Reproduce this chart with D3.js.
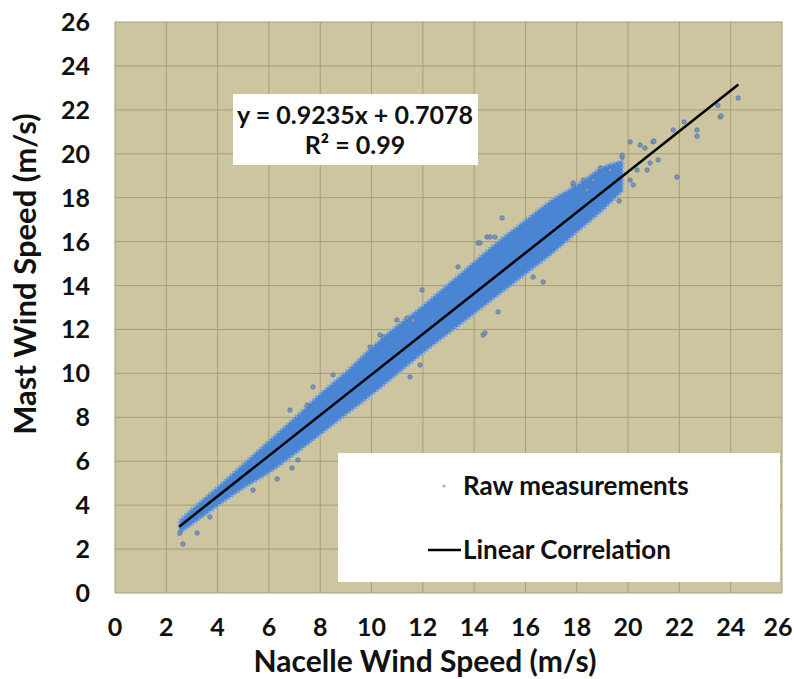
<!DOCTYPE html>
<html>
<head>
<meta charset="utf-8">
<script src="https://cdn.jsdelivr.net/npm/d3@7"></script>
<style>
  html, body { margin: 0; padding: 0; background: #fff; }
  svg text { font-family: Lato, "Open Sans", sans-serif; font-weight: 700; fill: #111; }
</style>
</head>
<body>
<div id="chart"></div>
<script>
/* wind speed scatter: nacelle vs mast, dense band + outliers + linear fit */

// axis ticks (m/s)
const ticks = [0, 2, 4, 6, 8, 10, 12, 14, 16, 18, 20, 22, 24, 26];

// dense part of the cloud: nacelle speed -> band edges of mast speed
const bandX     = [2.5, 3.0, 4.0, 5.0, 6.0, 7.0, 8.0, 9.0, 10.0, 11.0, 12.0, 13.0, 14.0, 15.0, 16.0, 17.0, 18.0, 19.0, 19.8];
const bandUpper = [3.3, 3.85, 4.85, 5.9, 6.95, 8.0, 9.1, 10.1, 11.2, 12.2, 13.1, 14.1, 15.1, 16.1, 17.0, 17.9, 18.6, 19.4, 19.7];
const bandLower = [2.7, 3.1, 3.95, 4.75, 5.45, 6.3, 7.2, 8.1, 9.0, 9.95, 10.9, 11.8, 12.7, 13.6, 14.5, 15.4, 16.4, 17.4, 18.3];

// scattered points outside the dense band [nacelle, mast]
const outliers = [
  [2.65, 2.23], [2.53, 2.73], [3.2, 2.73], [3.7, 3.46], [5.38, 4.69], [6.32, 5.19], [6.9, 5.69], [7.13, 6.06],
  [6.82, 8.33], [7.49, 8.56], [7.72, 9.38], [8.5, 9.93], [9.94, 11.2], [10.33, 11.75], [10.45, 11.66],
  [10.99, 12.43], [11.38, 12.52], [11.62, 12.43], [11.5, 9.84], [11.89, 10.38], [11.97, 13.8],
  [13.37, 14.85], [14.15, 15.94], [14.23, 15.94], [14.5, 16.21], [14.62, 16.21], [14.81, 16.21],
  [15.09, 17.08], [14.35, 11.75], [14.42, 11.84], [14.93, 12.8], [16.3, 14.39], [16.69, 14.16],
  [17.86, 18.58], [18.25, 18.8], [18.4, 18.35], [18.64, 18.8], [17.86, 18.67], [18.91, 19.35], [19.3, 19.26],
  [19.65, 17.85], [19.77, 19.85], [19.77, 19.94], [20.08, 18.8], [20.2, 18.58], [20.35, 19.26], [20.08, 20.54],
  [20.47, 20.4], [20.66, 20.26], [20.74, 19.26], [20.86, 19.58], [20.97, 20.54], [21.01, 20.58], [21.17, 19.72],
  [21.76, 21.08], [21.9, 18.94], [22.18, 21.45], [22.69, 21.08], [22.69, 20.8], [23.5, 22.2], [23.59, 21.68],
  [23.63, 21.72], [24.29, 22.54]
];

// linear correlation y = 0.9235x + 0.7078, drawn between its end points
const fitLine = [[2.5, 3.02], [24.3, 23.15]];
const fitLabel = ["y = 0.9235x + 0.7078", "R² = 0.99"];
const legendLabels = ["Raw measurements", "Linear Correlation"];

const W = 794, H = 679;
const m = { t: 22, r: 12, b: 86, l: 115 };
const svg = d3.select("#chart").append("svg").attr("width", W).attr("height", H);

const x = d3.scaleLinear().domain([0, 26]).range([m.l, W - m.r]);
const y = d3.scaleLinear().domain([0, 26]).range([H - m.b, m.t]);

// plot area
svg.append("rect")
  .attr("x", x(0)).attr("y", y(26))
  .attr("width", x(26) - x(0)).attr("height", y(0) - y(26))
  .attr("fill", "#cdc5a0");

const grid = svg.append("g").attr("stroke", "#a59d79").attr("stroke-width", 1);
grid.selectAll("line.v").data(ticks).join("line").attr("class", "v")
  .attr("x1", d => x(d)).attr("x2", d => x(d)).attr("y1", y(0)).attr("y2", y(26));
grid.selectAll("line.h").data(ticks).join("line").attr("class", "h")
  .attr("x1", x(0)).attr("x2", x(26)).attr("y1", d => y(d)).attr("y2", d => y(d));

// tick labels (last one kept inside the page edge)
svg.append("g").selectAll("text").data(ticks).join("text")
  .attr("x", x(0) - 25).attr("y", d => y(d)).attr("dy", "0.36em")
  .attr("text-anchor", "end").attr("font-size", 25).text(d => d);
svg.append("g").selectAll("text").data(ticks).join("text")
  .attr("x", d => Math.min(x(d), W - 16)).attr("y", 636)
  .attr("text-anchor", "middle").attr("font-size", 25).text(d => d);

// axis titles
svg.append("text").attr("x", 425).attr("y", 672).attr("text-anchor", "middle")
  .attr("font-size", 30).text("Nacelle Wind Speed (m/s)");
svg.append("text").attr("transform", "translate(36,274) rotate(-90)").attr("text-anchor", "middle")
  .attr("font-size", 31).text("Mast Wind Speed (m/s)");

// dense band of raw measurements
const band = bandX.map((d, i) => ({ x: d, hi: bandUpper[i], lo: bandLower[i] }));
const area = d3.area().x(d => x(d.x)).y0(d => y(d.lo)).y1(d => y(d.hi)).curve(d3.curveCatmullRom);
svg.append("path").datum(band)
  .attr("d", area)
  .attr("fill", "#4985d2")
  .attr("stroke", "#7aa6dc").attr("stroke-width", 3).attr("stroke-dasharray", "2 2");

svg.append("g").selectAll("circle").data(outliers).join("circle")
  .attr("cx", d => x(d[0])).attr("cy", d => y(d[1])).attr("r", 2.2)
  .attr("fill", "#7197cc").attr("stroke", "#5f6f88").attr("stroke-width", 0.7);

// fit line
svg.append("path").datum(fitLine)
  .attr("d", d3.line().x(d => x(d[0])).y(d => y(d[1])))
  .attr("stroke", "#000").attr("stroke-width", 2.5).attr("fill", "none");

// equation box
svg.append("rect").attr("x", 233).attr("y", 94).attr("width", 245).attr("height", 71).attr("fill", "#fff");
svg.append("g").selectAll("text").data(fitLabel).join("text")
  .attr("x", 355).attr("y", (d, i) => 124 + i * 30)
  .attr("text-anchor", "middle").attr("font-size", 25).text(d => d);

// legend
const lg = svg.append("g");
lg.append("rect").attr("x", 338).attr("y", 453).attr("width", 442).attr("height", 129).attr("fill", "#fff");
lg.append("circle").attr("cx", 444).attr("cy", 486).attr("r", 1.6).attr("fill", "#9fb3cc");
lg.append("line").attr("x1", 428).attr("x2", 461).attr("y1", 550).attr("y2", 550)
  .attr("stroke", "#000").attr("stroke-width", 2.5);
lg.selectAll("text").data(legendLabels).join("text")
  .attr("x", 463).attr("y", (d, i) => 486 + i * 64).attr("dy", "0.36em")
  .attr("font-size", 26).text(d => d);
</script>
</body>
</html>
